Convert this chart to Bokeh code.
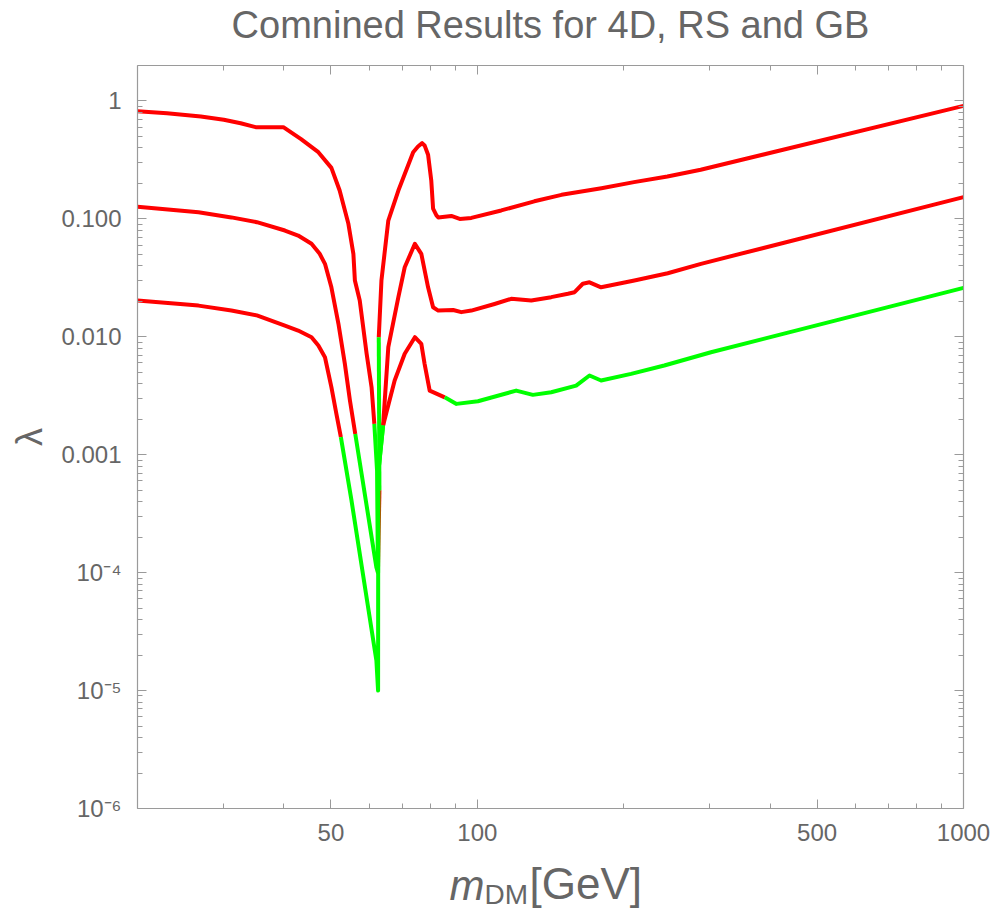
from bokeh.plotting import figure
from bokeh.layouts import column
from bokeh.models import FixedTicker, LogAxis, CustomJSTickFormatter
from bokeh.core.properties import value
from bokeh.embed import file_html
from bokeh.resources import INLINE

# Upper bound on the coupling lambda versus dark-matter mass for three models.
# *_allowed: 1 where the segment starting at that point is allowed (green), 0 where excluded (red).
upper_m = [20.0, 23.0, 27.0, 30.1, 32.6, 35.0, 39.9, 43.4, 47.1, 50.1,
           52.1, 54.3, 55.6, 56.0, 57.3, 59.2, 60.6, 61.4, 62.2, 62.45,
           62.9, 62.7, 63.5, 65.6, 68.8, 73.8, 75.5, 77.0, 77.9, 79.2,
           80.4, 81.1, 82.4, 83.1, 88.4, 92.0, 97.2, 112.0, 131.0, 149.0,
           180.0, 210.0, 246.0, 288.0, 1000.0]
upper_lam = [0.82, 0.788, 0.739, 0.693, 0.648, 0.60, 0.60, 0.475, 0.368, 0.271,
             0.174, 0.0908, 0.0506, 0.030, 0.0203, 0.00718, 0.00374, 0.00183, 7.3e-4, 1.0e-4,
             5.0e-4, 0.0099, 0.030, 0.0969, 0.174, 0.368, 0.411, 0.439, 0.42, 0.35,
             0.212, 0.122, 0.107, 0.103, 0.106, 0.100, 0.102, 0.118, 0.141, 0.160,
             0.182, 0.205, 0.229, 0.261, 0.91]
upper_allowed = [0, 0, 0, 0, 0, 0, 0, 0, 0, 0,
                 0, 0, 0, 0, 0, 0, 0, 1, 1, 0,
                 1, 0, 0, 0, 0, 0, 0, 0, 0, 0,
                 0, 0, 0, 0, 0, 0, 0, 0, 0, 0,
                 0, 0, 0, 0, 0]

middle_m = [20.0, 26.7, 31.2, 35.2, 40.2, 42.8, 45.6, 47.4, 48.6, 50.1,
            51.8, 53.4, 54.7, 56.1, 57.8, 62.0, 62.5, 62.55, 64.0, 65.6,
            68.8, 70.9, 74.4, 76.7, 79.2, 81.1, 83.1, 89.2, 92.7, 97.2,
            108.5, 117.4, 129.1, 141.9, 153.6, 158.5, 164.8, 170.1, 179.7, 210.4,
            246.4, 288.4, 1000.0]
middle_lam = [0.127, 0.114, 0.103, 0.0938, 0.0797, 0.0723, 0.0615, 0.0506, 0.0416, 0.0263,
              0.0129, 0.0059, 0.00288, 0.0015, 6.9e-4, 1.11e-4, 1.0e-4, 7.0e-4, 0.00177, 0.00817,
              0.0217, 0.0389, 0.0615, 0.0506, 0.0263, 0.0178, 0.0167, 0.0169, 0.0162, 0.0167,
              0.0190, 0.0210, 0.0203, 0.0217, 0.0232, 0.0239, 0.0282, 0.0290, 0.0263, 0.030,
              0.0346, 0.0416, 0.153]
middle_allowed = [0, 0, 0, 0, 0, 0, 0, 0, 0, 0,
                  0, 0, 0, 1, 1, 1, 1, 1, 0, 0,
                  0, 0, 0, 0, 0, 0, 0, 0, 0, 0,
                  0, 0, 0, 0, 0, 0, 0, 0, 0, 0,
                  0, 0, 0]

lower_m = [20.0, 26.7, 31.2, 35.2, 40.2, 42.8, 45.6, 47.1, 48.6, 50.1,
           51.3, 52.4, 55.1, 62.0, 62.5, 62.55, 64.0, 67.6, 70.9, 74.4,
           76.7, 77.9, 79.8, 85.7, 90.6, 100.3, 120.2, 130.1, 141.9, 159.7,
           170.1, 179.7, 207.1, 242.4, 302.4, 1000.0]
lower_lam = [0.0203, 0.0184, 0.0167, 0.0152, 0.01247, 0.0113, 0.00993, 0.00844, 0.00671, 0.00374,
             0.00222, 0.00141, 4.1e-4, 1.8e-5, 1.0e-5, 7.0e-4, 0.00177, 0.00426, 0.00718, 0.00993,
             0.00872, 0.0059, 0.0035, 0.00307, 0.0027, 0.00284, 0.0035, 0.00322, 0.00339, 0.00386,
             0.0047, 0.00426, 0.00485, 0.00571, 0.0074, 0.026]
lower_allowed = [0, 0, 0, 0, 0, 0, 0, 0, 0, 0,
                 0, 1, 1, 1, 1, 1, 0, 0, 0, 0,
                 0, 0, 0, 1, 1, 1, 1, 1, 1, 1,
                 1, 1, 1, 1, 1, 1]

x_major = [50, 100, 500, 1000]
x_major_labels = ["50", "100", "500", "1000"]
x_minor = [20, 30, 40, 60, 70, 80, 90, 200, 300, 400, 600, 700, 800, 900]
y_major = [1e-6, 1e-5, 1e-4, 1e-3, 1e-2, 1e-1, 1.0]
y_major_labels = ["10⁻⁶", "10⁻⁵", "10⁻⁴", "0.001", "0.010", "0.100", "1"]
y_minor = [k * 10.0 ** e for e in range(-6, 0) for k in range(2, 10)]

TITLE = "Comnined Results for 4D, RS and GB"
TEXT = "#666666"
FRAME = "#9a9a9a"
FONT = "Liberation Sans"
RED = "#ff0000"
GREEN = "#00ff00"
W = 996
LEFT, RIGHT = 137, 33   # border widths around the plotting frame
HEAD_H, MAIN_H, FOOT_H = 50, 803, 56


def split_runs(xs, ys, flags):
    """Split a polyline into consecutive runs that share the same status."""
    runs = []
    start = 0
    n = len(xs)
    for i in range(1, n):
        if i == n - 1 or flags[i] != flags[start]:
            runs.append((xs[start:i + 1], ys[start:i + 1], flags[start]))
            start = i
    return runs


def text_strip(height):
    """A bare figure sharing the main frame's horizontal extent; x is in page pixels."""
    f = figure(width=W, height=height, x_range=(LEFT, W - RIGHT), y_range=(0, height),
               output_backend="svg", toolbar_location=None,
               x_axis_location=None, y_axis_location=None,
               min_border_left=LEFT, min_border_right=RIGHT,
               min_border_top=0, min_border_bottom=0)
    f.title = None
    f.outline_line_color = None
    f.grid.visible = False
    f.background_fill_color = "white"
    f.border_fill_color = "white"
    return f


# ---- title strip ----
head = text_strip(HEAD_H)
head.text(x=[550], y=[26], text=[TITLE], text_font=value(FONT), text_font_size=value("38px"),
          text_color=TEXT, text_align="center", text_baseline="alphabetic")

# ---- main plot ----
p = figure(width=W, height=MAIN_H, x_axis_type="log", y_axis_type="log",
           x_range=(20, 1000), y_range=(1e-6, 2.0),
           output_backend="svg", toolbar_location=None,
           min_border_left=LEFT, min_border_right=RIGHT,
           min_border_top=15, min_border_bottom=45)
p.title = None
p.background_fill_color = "white"
p.border_fill_color = "white"
p.outline_line_color = None
p.xgrid.visible = False
p.ygrid.visible = False

red_xs, red_ys, green_xs, green_ys = [], [], [], []
for m, lam, ok in [(upper_m, upper_lam, upper_allowed),
                   (middle_m, middle_lam, middle_allowed),
                   (lower_m, lower_lam, lower_allowed)]:
    for xs, ys, flag in split_runs(m, lam, ok):
        if flag:
            green_xs.append(xs)
            green_ys.append(ys)
        else:
            red_xs.append(xs)
            red_ys.append(ys)

p.multi_line(xs=red_xs, ys=red_ys, line_color=RED, line_width=4, line_join="round")
p.multi_line(xs=green_xs, ys=green_ys, line_color=GREEN, line_width=4, line_join="round")


def style_axis(ax):
    ax.axis_line_color = FRAME
    ax.axis_line_width = 1.2
    ax.major_tick_line_color = FRAME
    ax.minor_tick_line_color = FRAME
    ax.major_tick_in = 9
    ax.major_tick_out = 0
    ax.minor_tick_in = 5
    ax.minor_tick_out = 0
    ax.major_label_text_font = FONT
    ax.major_label_text_font_size = "24px"
    ax.major_label_text_color = TEXT


xticker = FixedTicker(ticks=x_major, minor_ticks=x_minor)
yticker = FixedTicker(ticks=y_major, minor_ticks=y_minor)

xa = p.xaxis[0]
xa.ticker = xticker
xa.major_label_overrides = dict(zip(x_major, x_major_labels))
style_axis(xa)
xa.major_label_standoff = 15

ya = p.yaxis[0]
ya.ticker = yticker
ya.major_label_overrides = dict(zip(y_major, y_major_labels))
style_axis(ya)
ya.major_label_standoff = 16
ya.axis_label = "λ"
ya.axis_label_text_font = FONT
ya.axis_label_text_font_size = "36px"
ya.axis_label_text_font_style = "normal"
ya.axis_label_text_color = TEXT
ya.axis_label_standoff = 8

blank = CustomJSTickFormatter(code="return ''")
top_axis = LogAxis(ticker=xticker, formatter=blank)
style_axis(top_axis)
p.add_layout(top_axis, "above")
right_axis = LogAxis(ticker=yticker, formatter=blank)
style_axis(right_axis)
p.add_layout(right_axis, "right")

# ---- x-axis title strip: italic m, subscript DM, then the unit ----
foot = text_strip(FOOT_H)
foot.text(x=[449], y=[24], text=["m"], text_font=value(FONT), text_font_size=value("42px"),
          text_font_style=value("italic"), text_color=TEXT, text_baseline="alphabetic")
foot.text(x=[484], y=[15], text=["DM"], text_font=value(FONT), text_font_size=value("28px"),
          text_color=TEXT, text_baseline="alphabetic")
foot.text(x=[529], y=[26], text=["[GeV]"], text_font=value(FONT), text_font_size=value("44px"),
          text_color=TEXT, text_baseline="alphabetic")

layout = column(head, p, foot, spacing=0)
open("out.html", "w").write(file_html(layout, INLINE))
